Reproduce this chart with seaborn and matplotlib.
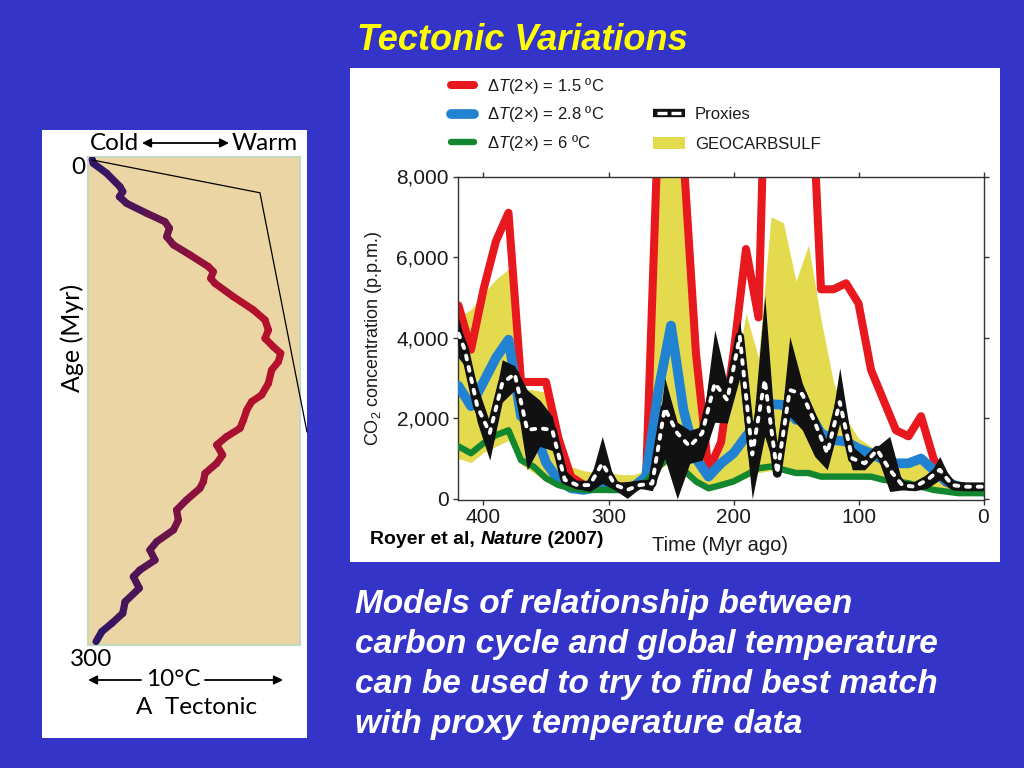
import numpy as np
import matplotlib
matplotlib.use('Agg')
import matplotlib.pyplot as plt
import seaborn as sns
from matplotlib.collections import LineCollection
from matplotlib.colors import LinearSegmentedColormap
from matplotlib.lines import Line2D
from matplotlib.patches import Patch, Rectangle, FancyArrowPatch
from matplotlib.legend_handler import HandlerTuple

# ---------------- data ----------------
# Left panel: tectonic temperature curve (relative temperature, age in Myr)
tect_temp = [0.2, 0.25, 0.88, 1.51, 1.64, 1.48, 1.82, 2.77, 3.63, 3.84, 3.71, 4.03, 4.81, 5.68, 5.91,
             5.79, 5.99, 6.86, 7.80, 8.35, 8.51, 8.35, 8.74, 9.09, 8.98, 8.66, 8.51, 8.19, 7.72,
             7.49, 7.33, 7.17, 6.54, 6.07, 6.35, 6.07, 5.52, 5.44, 5.28, 4.65, 4.18, 4.26, 4.03,
             3.24, 2.92, 3.16, 2.45, 2.14, 2.42, 1.75, 1.64, 1.12, 0.65, 0.38]
tect_age = [1.5, 3.9, 10, 18.3, 21.3, 24.4, 28.5, 34.6, 39.8, 43.8, 49, 54, 60.2, 67.4, 70.5,
            74.6, 77.7, 85.9, 94, 100.2, 106.4, 111.5, 116.6, 120.7, 125.8, 131, 139.1, 146.3, 150.4,
            155.5, 161.7, 166.8, 171.9, 177, 183.2, 188.3, 194.5, 199.6, 203.7, 210.8, 217, 223.2, 229.3,
            236.5, 241.6, 247.8, 253.9, 258, 265.1, 273.4, 280.5, 286.7, 291.8, 297.9]
connector_temp = [0.19, 8.11, 10.33]
connector_age = [1.8, 22, 169]

# Right panel: model time axis (Myr ago)
t_model = list(range(420, -1, -10))
co2_dt15 = [4800, 3700, 5200, 6400, 7100, 2900, 2900, 2900, 1500, 550, 350, 300, 300, 300, 320,
            450, 9500, 13000, 8500, 3600, 700, 1400, 3600, 6200, 4500, 16000, 16000, 14000, 12000,
            5200, 5200, 5350, 4850, 3200, 2450, 1700, 1550, 2050, 1000, 400, 300, 280, 250]
co2_dt28 = [2800, 2300, 2900, 3500, 3950, 2050, 1750, 900, 460, 260, 220, 280, 260, 260, 300,
            550, 2700, 4300, 2200, 1000, 550, 880, 1130, 1550, 1900, 2350, 2330, 1960, 2160,
            1630, 1460, 1420, 1250, 1130, 960, 880, 880, 1000, 720, 430, 300, 260, 180]
co2_dt6 = [1300, 1130, 1380, 1580, 1700, 960, 800, 510, 340, 260, 220, 220, 220, 220, 260,
           430, 800, 1050, 720, 430, 260, 340, 430, 590, 760, 800, 720, 640, 640,
           550, 550, 550, 550, 550, 470, 430, 385, 300, 220, 180, 140, 140, 140]
geocarb_upper = [4500, 4700, 5100, 5450, 5700, 2750, 2700, 2650, 1000, 800, 700, 650, 650, 600, 600,
                 700, 9000, 12000, 8300, 3000, 800, 1800, 2800, 4600, 3500, 7000, 6850, 5400, 6300,
                 4450, 2900, 2000, 1500, 1300, 1000, 850, 900, 1100, 700, 450, 350, 300, 280]
geocarb_lower = [1000, 900, 1150, 1300, 1450, 850, 650, 420, 300, 250, 200, 200, 200, 200, 230,
                 380, 700, 950, 600, 380, 230, 300, 380, 520, 650, 700, 650, 580, 580,
                 500, 500, 500, 500, 480, 420, 380, 340, 260, 200, 160, 120, 120, 120]

# Proxy time axis (Myr ago)
t_proxy = [420] + list(range(415, 0, -10)) + [0]
proxy_mean = [4100, 3700, 2300, 1630, 2870, 3100, 1710, 1750, 1710, 470, 340, 340, 880, 350, 220,
              340, 380, 2250, 1630, 1300, 1630, 2870, 2450, 4030, 1100, 2950, 630, 2700, 2600,
              1900, 1130, 2400, 1000, 880, 1210, 720, 340, 300, 470, 720, 340, 300, 300, 300]
proxy_upper = [4500, 3900, 2800, 1900, 3450, 3300, 2700, 2450, 2050, 720, 430, 430, 1550, 400, 430,
               470, 480, 3000, 1900, 1700, 1800, 4190, 2870, 4440, 1550, 5050, 960, 4030, 2870,
               2130, 1250, 3250, 1300, 1050, 1300, 1550, 400, 380, 500, 1050, 400, 380, 380, 380]
proxy_lower = [3500, 3300, 1900, 960, 2400, 2700, 720, 1300, 1200, 380, 250, 180, 380, 220, 10,
               260, 200, 1000, 0, 880, 960, 1900, 1880, 3000, 0, 1550, 550, 2040, 1710,
               1050, 720, 1880, 720, 720, 1050, 180, 220, 200, 260, 470, 220, 200, 200, 200]

x_ticks = [400, 300, 200, 100, 0]
x_tick_labels = ['400', '300', '200', '100', '0']
y_ticks = [0, 2000, 4000, 6000, 8000]
y_tick_labels = ['0', '2,000', '4,000', '6,000', '8,000']

model_labels = ['Δ$T$(2×) = 1.5 ºC', 'Δ$T$(2×) = 2.8 ºC', 'Δ$T$(2×) = 6 ºC']
band_labels = ['Proxies', 'GEOCARBSULF']
body_lines = ['Models of relationship between',
              'carbon cycle and global temperature',
              'can be used to try to find best match',
              'with proxy temperature data']

# ---------------- style ----------------
BG = '#3434C9'
RED = '#E8191E'
BLUE = '#2282D2'
GREEN = '#13872F'
YELLOW = '#E4DA4E'
BLACK = '#111111'

sns.set_theme(style='ticks')
plt.rcParams['font.family'] = ['Liberation Sans', 'DejaVu Sans']
plt.rcParams['mathtext.fontset'] = 'custom'
plt.rcParams['mathtext.rm'] = 'Liberation Sans'
plt.rcParams['mathtext.it'] = 'Liberation Sans:italic'
plt.rcParams['mathtext.bf'] = 'Liberation Sans:bold'

W, H = 1024, 768
fig = plt.figure(figsize=(W / 100, H / 100), dpi=100, facecolor=BG)


def fx(px):
    return px / W


def fy(py):
    return 1 - py / H


# white panels
fig.add_artist(Rectangle((fx(42), fy(738)), 265 / W, 608 / H, transform=fig.transFigure,
                         facecolor='white', edgecolor='none', zorder=0))
fig.add_artist(Rectangle((fx(350), fy(562)), 650 / W, 494 / H, transform=fig.transFigure,
                         facecolor='white', edgecolor='none', zorder=0))

# ---------------- left panel ----------------
axL = fig.add_axes([fx(88), fy(645), 212 / W, 488 / H])
axL.set_facecolor('#EBD5A5')
axL.set_xlim(0, 10)
axL.set_ylim(300, 0)
axL.set_xticks([])
axL.set_yticks([])
for s in axL.spines.values():
    s.set_visible(True)
    s.set_color('#C5D9C0')
    s.set_linewidth(1.5)

temp_arr = np.array(tect_temp)
pts = np.column_stack([temp_arr, np.array(tect_age)])
segs = np.stack([pts[:-1], pts[1:]], axis=1)
cmap = LinearSegmentedColormap.from_list(
    'tect', [(0.0, '#28166A'), (0.33, '#5A1450'), (0.6, '#9A1038'), (0.8, '#B3102C'), (1.0, '#B5102C')])
lc = LineCollection(segs, cmap=cmap, norm=plt.Normalize(0, 9.2), linewidths=5.2,
                    capstyle='round', joinstyle='round', zorder=3)
lc.set_array((temp_arr[:-1] + temp_arr[1:]) / 2)
axL.add_collection(lc)
axL.plot(connector_temp, connector_age, color='black', lw=0.9, clip_on=False, zorder=4)

LF = 'Lato'
LS = 17.5
fig.text(fx(114), fy(143), 'Cold', ha='center', va='center', fontsize=LS, family=LF, color='black')
fig.text(fx(265), fy(143), 'Warm', ha='center', va='center', fontsize=LS, family=LF, color='black')
fig.text(fx(78), fy(167), '0', ha='center', va='center', fontsize=LS, family=LF, color='black')
fig.text(fx(72), fy(338), 'Age (Myr)', ha='center', va='center', rotation=90, fontsize=18,
         family=LF, color='black')
fig.text(fx(91), fy(660), '300', ha='center', va='center', fontsize=LS, family=LF, color='black')
fig.text(fx(173), fy(680), '10°C', ha='center', va='center', fontsize=LS, family=LF, color='black')
fig.text(fx(197), fy(708), 'A  Tectonic', ha='center', va='center', fontsize=LS, family=LF,
         color='black')
arrow_kw = dict(color='black', lw=1.3, mutation_scale=13, shrinkA=0, shrinkB=0)
fig.add_artist(FancyArrowPatch((fx(142), fy(143)), (fx(229), fy(143)),
                               transform=fig.transFigure, arrowstyle='<|-|>', **arrow_kw))
fig.add_artist(FancyArrowPatch((fx(141), fy(680)), (fx(88), fy(680)),
                               transform=fig.transFigure, arrowstyle='-|>', **arrow_kw))
fig.add_artist(FancyArrowPatch((fx(205), fy(680)), (fx(283), fy(680)),
                               transform=fig.transFigure, arrowstyle='-|>', **arrow_kw))

# ---------------- right panel ----------------
ax = fig.add_axes([fx(458), fy(500), 526 / W, 323.5 / H])
ax.set_facecolor('white')
ax.fill_between(t_model, geocarb_lower, geocarb_upper, color=YELLOW, lw=0, zorder=1)
sns.lineplot(x=t_model, y=co2_dt15, ax=ax, color=RED, linewidth=5.8, estimator=None,
             sort=False, zorder=2)
sns.lineplot(x=t_model, y=co2_dt28, ax=ax, color=BLUE, linewidth=7.0, estimator=None,
             sort=False, zorder=3)
sns.lineplot(x=t_model, y=co2_dt6, ax=ax, color=GREEN, linewidth=4.6, estimator=None,
             sort=False, zorder=4)
ax.fill_between(t_proxy, proxy_lower, proxy_upper, color=BLACK, lw=0, zorder=5)
sns.lineplot(x=t_proxy, y=proxy_mean, ax=ax, color=BLACK, linewidth=6.2, estimator=None,
             sort=False, zorder=6)
sns.lineplot(x=t_proxy, y=proxy_mean, ax=ax, color='white', linewidth=2.8, estimator=None,
             sort=False, zorder=7, linestyle=(0, (1.0, 2.0)), dash_capstyle='round')

ax.set_xlim(420.4, -0.4)
ax.set_ylim(-30, 8000)
ax.set_xticks(x_ticks)
ax.set_xticklabels(x_tick_labels)
ax.set_yticks(y_ticks)
ax.set_yticklabels(y_tick_labels)
ax.tick_params(direction='out', length=3.5, width=1, color='#333333', top=True, right=True,
               labeltop=False, labelright=False, labelsize=15, labelcolor='#1a1a1a')
ax.tick_params(axis='x', pad=2)
ax.tick_params(axis='y', pad=3)
for s in ax.spines.values():
    s.set_visible(True)
    s.set_color('#333333')
    s.set_linewidth(1)

ax.set_ylabel('CO$_2$ concentration (p.p.m.)', fontsize=13, color='#1a1a1a')
ax.yaxis.set_label_coords((384 - 458) / 526, 0.5)
ax.set_xlabel('Time (Myr ago)', fontsize=14.5, color='#1a1a1a')
ax.xaxis.set_label_coords((720 - 458) / 526, -(536 - 500) / 323.5)

model_handles = [
    Line2D([], [], color=RED, lw=5.8, solid_capstyle='round'),
    Line2D([], [], color=BLUE, lw=7.0, solid_capstyle='round'),
    Line2D([], [], color=GREEN, lw=4.6, solid_capstyle='round'),
]
band_handles = [
    (Line2D([], [], color=BLACK, lw=6.0, solid_capstyle='butt'),
     Line2D([], [], color='white', lw=2.4, linestyle=(3.0, (3.0, 1.2)), dash_capstyle='butt')),
    Patch(facecolor=YELLOW, edgecolor='none'),
]
leg1 = ax.legend(model_handles, model_labels, loc='upper left',
                 bbox_to_anchor=(fx(451), fy(76)), bbox_transform=fig.transFigure,
                 frameon=False, fontsize=12, handlelength=1.4, handletextpad=0.76,
                 labelspacing=0.5, borderpad=0, borderaxespad=0, handleheight=0.7)
for t in leg1.get_texts():
    t.set_color('#1a1a1a')
ax.add_artist(leg1)
leg2 = ax.legend(band_handles, band_labels, loc='upper left',
                 bbox_to_anchor=(fx(653), fy(107)), bbox_transform=fig.transFigure,
                 frameon=False, fontsize=12, handlelength=1.92, handletextpad=0.6,
                 labelspacing=0.88, borderpad=0, borderaxespad=0, handleheight=0.7,
                 handler_map={tuple: HandlerTuple(ndivide=1, pad=0)})
for t in leg2.get_texts():
    t.set_color('#1a1a1a')

# source note
t1 = fig.text(fx(370), fy(540), 'Royer et al, ', ha='left', va='center', fontsize=14,
              weight='bold', color='black')
t2 = ax.annotate('Nature', xy=(1, 0.5), xycoords=t1, ha='left', va='center', fontsize=14,
                 weight='bold', style='italic', color='black', annotation_clip=False)
ax.annotate(' (2007)', xy=(1, 0.5), xycoords=t2, ha='left', va='center', fontsize=14,
            weight='bold', color='black', annotation_clip=False)

# ---------------- slide text ----------------
fig.text(fx(522), fy(40), 'Tectonic Variations', ha='center', va='center', fontsize=26,
         weight='bold', style='italic', color='#FFFF00')
for i, line in enumerate(body_lines):
    fig.text(fx(355), fy(613 + 40 * i), line, ha='left', va='baseline', fontsize=24,
             weight='bold', style='italic', color='white')

fig.savefig('out.png', dpi=100, facecolor=BG)
